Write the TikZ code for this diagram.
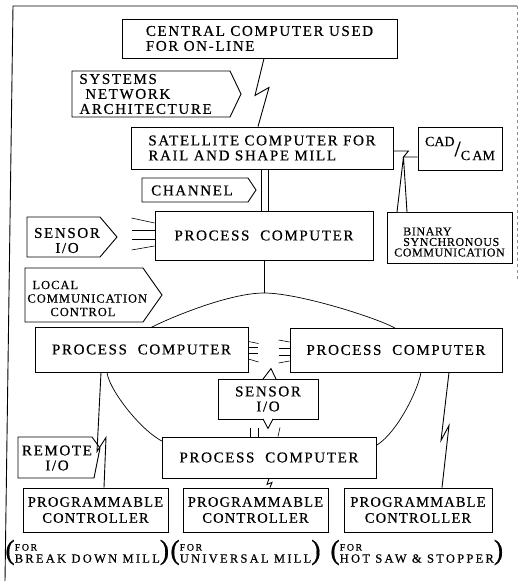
\documentclass[tikz,border=0pt]{standalone}
\usepackage{fontspec}
\setmainfont{Liberation Serif}
\usetikzlibrary{calc}

\newcommand{\unitfont}{\fontsize{15}{15}\selectfont\addfontfeatures{LetterSpace=11,FakeBold=0.5}}
\newcommand{\plcfont}{\fontsize{14.5}{16}\selectfont\addfontfeatures{LetterSpace=8,FakeBold=0.5}}
\newcommand{\smallfont}{\fontsize{12}{10.5}\selectfont\addfontfeatures{LetterSpace=5,FakeBold=0.4}}
\newcommand{\capfont}{\fontsize{12.5}{12}\selectfont\addfontfeatures{LetterSpace=18,FakeBold=0.5}}
\newcommand{\forfont}{\fontsize{10}{9}\selectfont\addfontfeatures{LetterSpace=15,FakeBold=0.4}}
\newcommand{\parenfont}{\fontsize{28}{28}\selectfont}

\newcommand{\drawtag}[5]{% Parameters: left, top, right, bottom, point depth
  \draw[tagline] (#1,#2) -- ({#3-#5},#2) -- (#3,{(#2+#4)/2}) -- ({#3-#5},#4) -- (#1,#4) -- cycle;
}
\newcommand{\millnote}[1]{% Parameter: name of the mill
  \raisebox{-2pt}{\parenfont(}\begin{tabular}{@{}l@{}}{\forfont FOR}\\#1\end{tabular}\raisebox{-2pt}{\parenfont)}%
}

\tikzset{
  unit/.style={draw, fill=white, inner sep=0pt, align=left, font=\unitfont},
  plc/.style={unit, align=center, font=\plcfont, minimum height=44pt},
  tagline/.style={draw, fill=white},
  tagtext/.style={inner sep=0pt, align=left, font=\unitfont},
  fanline/.style={line width=0.6pt},
}

\begin{document}
\begin{tikzpicture}[x=1pt, y=-1pt, line width=0.9pt]
    \useasboundingbox (0,0) rectangle (522,581);
    % frame
    \draw (5,581) -- (13,6) -- (517,6);
    \draw[black!45, dashed, line width=0.5pt] (517,6) -- (517,280);

    % local loop, mostly hidden behind the computers
    \draw[line width=0.7pt] plot[smooth cycle] coordinates {(264,293) (393,327) (421,372) (377,445)
      (270,468) (160,440) (107,372) (152,327)};
    \coordinate (looptop) at (264,293);

    % computers
    \node[unit, minimum width=275pt, minimum height=39pt] (central) at (259.5,38.5) {CENTRAL COMPUTER USED\\FOR ON-LINE};
    \node[unit, minimum width=262pt, minimum height=42pt] (sat) at (262,148) {SATELLITE COMPUTER FOR\\RAIL AND SHAPE MILL};
    \node[unit, minimum width=84pt, minimum height=43pt, font=\fontsize{14}{14}\selectfont\addfontfeatures{FakeBold=0.5}] (cadcam) at (460,148.5)
      {\raisebox{7pt}{CAD}\raisebox{-3pt}{\fontsize{22}{22}\selectfont/}\raisebox{-7pt}{C\,AM}};
    \node[unit, minimum width=218pt, minimum height=49pt] (pc1) at (264,235.5) {PROCESS\ \ COMPUTER};
    \node[unit, minimum width=213pt, minimum height=45pt] (pc2l) at (141.5,349.5) {PROCESS\ \ COMPUTER};
    \node[unit, minimum width=212pt, minimum height=44pt] (pc2r) at (396,350) {PROCESS\ \ COMPUTER};
    \node[unit, minimum width=214pt, minimum height=41pt] (pc3) at (269,457.5) {PROCESS\ \ COMPUTER};
    \node[plc, minimum width=145pt] (plc1) at (95.5,510) {PROGRAMMABLE\\CONTROLLER};
    \node[plc, minimum width=145pt] (plc2) at (255.5,510) {PROGRAMMABLE\\CONTROLLER};
    \node[plc, minimum width=148pt] (plc3) at (418,510) {PROGRAMMABLE\\CONTROLLER};

    % tags
    \drawtag{72}{71}{241}{117}{11}
    \node[tagtext, anchor=west] (sna) at (79,94) {SYSTEMS\\\hspace*{6pt}NETWORK\\ARCHITECTURE};
    \drawtag{142}{178}{256}{202}{8}
    \node[tagtext] (chan) at (192,190.5) {CHANNEL};
    \drawtag{27}{217}{117}{257}{17}
    \node[tagtext, align=center] (sensl) at (67,240.5) {SENSOR\\I/O};
    \drawtag{25}{268}{162}{322}{19}
    \node[tagtext, font=\fontsize{12.5}{13.5}\selectfont\addfontfeatures{LetterSpace=8,FakeBold=0.4}, anchor=west] (lcc) at (27,298.5)
      {\hspace*{5pt}LOCAL\\COMMUNICATION\\\hspace*{23pt}CONTROL};
    \draw[tagline] (18,437) -- (92,437) -- (100,448) -- (94,478) -- (18,478) -- cycle;
    \node[tagtext, align=center] (remote) at (57,458) {REMOTE\\I/O};

    % binary synchronous callout
    \node[draw, minimum width=125pt, minimum height=51pt] (bsc) at (449.5,237.5) {};
    \node[tagtext, font=\smallfont] (bsctext) at (449.5,242) {\hspace*{9pt}BINARY\\\hspace*{9pt}SYNCHRONOUS\\COMMUNICATION};

    % sensor callout between the computers
    \node[unit, align=center, minimum width=100pt, minimum height=40pt] (sensc) at (268,399) {SENSOR\\I/O};
    \draw[fill=white] ($(sensc.north)+(-5,0.5)$) -- ++(8,-10.5) -- ($(sensc.north)+(8,0.5)$);
    \draw[fill=white] ($(sensc.south)+(-5,-0.5)$) -- ++(5,9.5) -- ($(sensc.south)+(5,-0.5)$);

    % links
    \draw ([xshift=4.5pt]central.south) -- ++(-9,37) -- ++(14,-8) -- ([xshift=-4pt]sat.north);
    \draw ([yshift=-3pt]sat.east) -- ++(15,0) -- ++(-5,6) coordinate (bsczig) -- ($(cadcam.west)+(0,8.5)$);
    \draw[fill=white] ($(bsc.north)+(-52.5,0.5)$) -- (bsczig) -- ($(bsc.north)+(-42.5,0.5)$);
    \draw ([xshift=-1pt]sat.south) -- ([xshift=-1pt]sat.south |- pc1.north);
    \draw ([xshift=6pt]sat.south) -- ([xshift=6pt]sat.south |- pc1.north);
    \draw (pc1.south) -- (looptop);
    \draw ($(pc2l.south)+(-40.5,0)$) -- ++(-4,79) -- ++(9,-14) -- ($(plc1.north)+(8.5,0)$);
    \draw ($(pc2r.south)+(53,0)$) -- ++(-8,68) -- ++(8,-15) -- ($(plc3.north)+(24,0)$);
    \draw (pc3.south) -- ++(-2,6) -- ++(5,-2) -- ($(plc2.north)+(14.5,0)$);

    % sensor lines
    \foreach \a/\b in {-12.5/-5, -5.5/0, 3.5/0, 10.5/4}
      \draw[fanline] ($(pc1.west)+(0,\a)$) -- ++(-23,\b);
    \foreach \a/\b in {-8/2, -2.5/0, 3.5/0, 9.5/3}
      \draw[fanline] ($(pc2l.east)+(0,\a)$) -- ++(10,\b);
    \foreach \a/\b in {-8/-2, -2/0, 5/0, 11/2}
      \draw[fanline] ($(pc2r.west)+(0,\a)$) -- ++(-11,\b);
    \foreach \a/\b in {-19/0, -11/0, 9/2}
      \draw[fanline] ($(pc3.north)+(\a,0)$) -- ++(\b,-9);

    % mills
    \node[anchor=west, inner sep=0pt, font=\capfont] (capbdm) at (5,553) {\millnote{BREAK DOWN MILL}};
    \node[anchor=west, inner sep=0pt, font=\capfont] (capum) at (170,553) {\millnote{UNIVERSAL MILL}};
    \node[anchor=west, inner sep=0pt, font=\capfont] (caphs) at (330,553) {\millnote{HOT SAW \& STOPPER}};
\end{tikzpicture}
\end{document}
